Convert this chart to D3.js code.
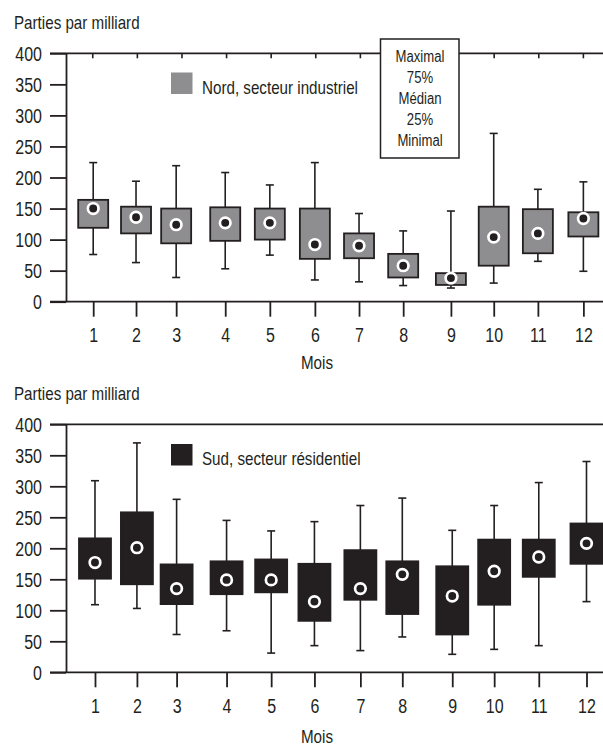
<!DOCTYPE html>
<html lang="fr">
<head>
<meta charset="utf-8">
<script src="https://d3js.org/d3.v7.min.js"></script>
<style>
  body { margin: 0; background: #fff; }
  svg { display: block; font-family: "Liberation Sans", Arial, sans-serif; }
  .axis path, .axis line { stroke: #231f20; stroke-width: 1.8; }
  .axis text { fill: #231f20; font-size: 19.5px; font-family: "Liberation Sans", Arial, sans-serif; }
</style>
</head>
<body>
<script>
// mois (categories)
var months = ["1", "2", "3", "4", "5", "6", "7", "8", "9", "10", "11", "12"];
// where each month's box sits on the axis
var northPos = [1.01, 1.97, 2.87, 3.97, 4.97, 5.98, 6.97, 7.96, 9.03, 9.99, 10.98, 12.0];
var southPos = [1.05, 1.99, 2.88, 4.0, 5.0, 5.97, 7.0, 7.94, 9.06, 10.0, 11.0, 12.07];

// Nord, secteur industriel
var northMax = [224, 194, 219, 208, 188, 224, 142, 114, 146, 271, 181, 193];
var northQ3  = [164, 153, 150, 152, 150, 150, 110, 77, 46, 153, 149, 144];
var northMed = [150, 136, 124, 127, 127, 92, 90, 58, 38, 104, 110, 134];
var northQ1  = [119, 110, 94, 98, 100, 69, 70, 39, 27, 58, 78, 105];
var northMin = [76, 63, 39, 53, 75, 35, 32, 26, 22, 30, 65, 49];

// Sud, secteur résidentiel
var southMax = [309, 370, 279, 245, 228, 243, 269, 281, 229, 269, 306, 340];
var southQ3  = [216, 258, 174, 179, 182, 175, 197, 179, 171, 214, 214, 240];
var southMed = [177, 201, 135, 149, 149, 114, 135, 158, 123, 163, 186, 208];
var southQ1  = [151, 142, 110, 126, 129, 83, 117, 94, 61, 109, 154, 175];
var southMin = [109, 103, 61, 67, 31, 43, 35, 57, 29, 37, 43, 114];

var yTicks = [0, 50, 100, 150, 200, 250, 300, 350, 400];
var legendLines = ["Maximal", "75%", "Médian", "25%", "Minimal"];

var W = 603, H = 746;
var ink = "#231f20";
var svg = d3.select("body").append("svg").attr("width", W).attr("height", H);

var x = d3.scaleLinear().domain([0.4, 12.44]).range([66, 603]);

function drawPanel(opt) {
  var y = d3.scaleLinear().domain([0, 400]).range([opt.y0, opt.y400]);
  var g = svg.append("g");

  // unit label
  g.append("text").attr("x", 14).attr("y", opt.y400 - 24)
    .attr("font-size", "18.5px").attr("fill", ink).text("Parties par milliard");

  // y axis
  var ya = g.append("g").attr("class", "axis").attr("transform", "translate(66,0)")
    .call(d3.axisLeft(y).tickValues(yTicks).tickSize(16).tickPadding(8).tickSizeOuter(0));
  ya.selectAll("text").attr("dy", "0.36em");

  // frame lines (bottom and top)
  g.append("line").attr("x1", 50).attr("x2", W).attr("y1", y(0)).attr("y2", y(0))
    .attr("stroke", ink).attr("stroke-width", 1.8);
  g.append("line").attr("x1", 50).attr("x2", W).attr("y1", y(400)).attr("y2", y(400))
    .attr("stroke", ink).attr("stroke-width", 1.8);

  // x axis
  var xa = g.append("g").attr("class", "axis").attr("transform", "translate(0," + y(0) + ")")
    .call(d3.axisBottom(x).tickValues(opt.pos).tickSize(15).tickPadding(opt.pad)
      .tickFormat(function(d, i) { return months[i]; }));
  xa.select(".domain").remove();

  if (opt.topTicks) {
    g.selectAll(".topTick").data(d3.range(1, 13)).enter().append("line")
      .attr("x1", function(d) { return x(d); }).attr("x2", function(d) { return x(d); })
      .attr("y1", y(400)).attr("y2", y(400) + 5)
      .attr("stroke", ink).attr("stroke-width", 1.6);
  }

  g.append("text").attr("x", 317).attr("y", opt.moisY).attr("text-anchor", "middle")
    .attr("font-size", "18.5px").attr("fill", ink).text("Mois");

  var bw = opt.bw;
  var rows = months.map(function(m, i) {
    return { p: opt.pos[i], max: opt.max[i], q3: opt.q3[i], med: opt.med[i], q1: opt.q1[i], min: opt.min[i] };
  });
  var box = g.selectAll(".box").data(rows).enter().append("g");

  box.append("line")
    .attr("x1", function(d) { return x(d.p); }).attr("x2", function(d) { return x(d.p); })
    .attr("y1", function(d) { return y(d.max); }).attr("y2", function(d) { return y(d.min); })
    .attr("stroke", ink).attr("stroke-width", 1.6);
  ["max", "min"].forEach(function(k) {
    box.append("line")
      .attr("x1", function(d) { return x(d.p) - 4; }).attr("x2", function(d) { return x(d.p) + 4; })
      .attr("y1", function(d) { return y(d[k]); }).attr("y2", function(d) { return y(d[k]); })
      .attr("stroke", ink).attr("stroke-width", 1.6);
  });
  box.append("rect")
    .attr("x", function(d) { return x(d.p) - bw / 2; }).attr("width", bw)
    .attr("y", function(d) { return y(d.q3); })
    .attr("height", function(d) { return y(d.q1) - y(d.q3); })
    .attr("fill", opt.fill).attr("stroke", ink).attr("stroke-width", 1.8);
  box.append("circle")
    .attr("cx", function(d) { return x(d.p); }).attr("cy", function(d) { return y(d.med); })
    .attr("r", 5.3).attr("fill", ink).attr("stroke", "#fff").attr("stroke-width", 2.7);

  // series legend
  g.append("rect").attr("x", 171).attr("y", opt.legY).attr("width", 21.5).attr("height", 21.5)
    .attr("fill", opt.fill);
  g.append("text").attr("x", 202).attr("y", opt.legY + 21).attr("font-size", "18.5px")
    .attr("fill", ink).text(opt.name);
}

drawPanel({
  y0: 301.7, y400: 53.3, pos: northPos, pad: 11, topTicks: true, moisY: 369,
  max: northMax, q3: northQ3, med: northMed, q1: northQ1, min: northMin,
  fill: "#8e8e90", bw: 30, legY: 72.5, name: "Nord, secteur industriel"
});
drawPanel({
  y0: 672.3, y400: 424.3, pos: southPos, pad: 12, topTicks: false, moisY: 743,
  max: southMax, q3: southQ3, med: southMed, q1: southQ1, min: southMin,
  fill: ink, bw: 32, legY: 444, name: "Sud, secteur résidentiel"
});

// key box for the box plot reading
var kb = svg.append("g");
kb.append("rect").attr("x", 380.5).attr("y", 39).attr("width", 78.5).attr("height", 119)
  .attr("fill", "#fff").attr("stroke", ink).attr("stroke-width", 1.5);
kb.selectAll("text").data(legendLines).enter().append("text")
  .attr("x", 420).attr("y", function(d, i) { return 62 + i * 21; })
  .attr("text-anchor", "middle").attr("font-size", "16px").attr("fill", ink)
  .text(function(d) { return d; });

// the source uses a condensed face: narrow every label
svg.selectAll("text").each(function() {
  var len = this.getComputedTextLength();
  d3.select(this).attr("textLength", len * 0.82).attr("lengthAdjust", "spacingAndGlyphs");
});
</script>
</body>
</html>
